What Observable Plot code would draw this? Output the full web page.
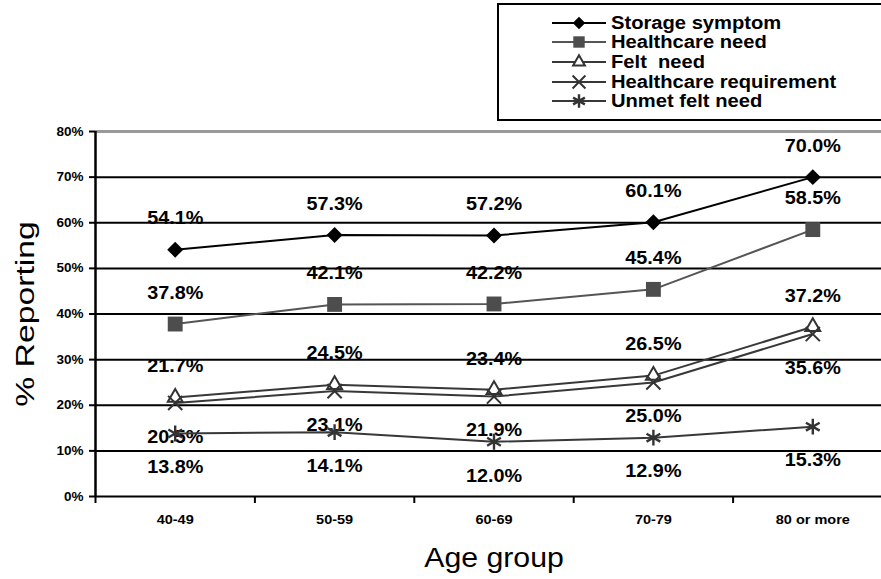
<!DOCTYPE html>
<html><head><meta charset="utf-8">
<script src="https://cdn.jsdelivr.net/npm/d3@7"></script>
<script src="https://cdn.jsdelivr.net/npm/@observablehq/plot@0.6"></script>
<style>
html,body{margin:0;padding:0;overflow:hidden;background:#fff;width:881px;height:579px}
#wrap{position:relative;width:881px;height:579px;overflow:hidden}
#chart svg{max-width:none !important}
#legend{position:absolute;left:497px;top:3px;width:400px;height:118px;border:2px solid #000;background:#fff;box-sizing:border-box;font-family:"Liberation Sans",Arial,sans-serif;font-weight:bold;font-size:18px;color:#000}
.row{position:absolute;left:53px;height:20px;display:flex;align-items:center;white-space:pre}
.row svg{display:block}
.row span{display:inline-block;margin-left:5px;transform:scaleX(1.12);transform-origin:left center;line-height:20px}
</style>
</head><body>
<div id="wrap"><div id="chart"></div><div id="legend"></div></div>
<script>
const ageGroups = ["40-49", "50-59", "60-69", "70-79", "80 or more"];
const seriesNames = ["Storage symptom", "Healthcare need", "Felt  need", "Healthcare requirement", "Unmet felt need"];
const storageSymptom = [54.1, 57.3, 57.2, 60.1, 70.0];
const healthcareNeed = [37.8, 42.1, 42.2, 45.4, 58.5];
const feltNeed = [21.7, 24.5, 23.4, 26.5, 37.2];
const healthcareRequirement = [20.5, 23.1, 21.9, 25.0, 35.6];
const unmetFeltNeed = [13.8, 14.1, 12.0, 12.9, 15.3];
const yTicks = [0, 10, 20, 30, 40, 50, 60, 70, 80];
const yLabel = "% Reporting";
const xLabel = "Age group";

const seriesValues = [storageSymptom, healthcareNeed, feltNeed, healthcareRequirement, unmetFeltNeed];

// styling (not data)
const styles = [
  {line: "#000000", symbol: "diamond2", fill: "#000000", stroke: "none", r: 7.2, dy: -31},
  {line: "#555555", symbol: "square", fill: "#4d4d4d", stroke: "none", r: 8.4, dy: -31},
  {line: "#383838", symbol: "triangle", fill: "#ffffff", stroke: "#333333", r: 5.5, dy: -31},
  {line: "#383838", symbol: "times", fill: "none", stroke: "#333333", r: 6.5, dy: 34},
  {line: "#383838", symbol: "asterisk", fill: "none", stroke: "#333333", r: 7.5, dy: 34}
];

const rows = seriesNames.map((name, i) => ageGroups.map((a, j) => ({series: name, si: i, xi: j, age: a, v: seriesValues[i][j]})));

const font = "'Liberation Sans', Arial, sans-serif";
const marks = [];
// gridlines
marks.push(Plot.ruleY(yTicks.filter(t => t < 80), {stroke: "#000", strokeWidth: 2}));
marks.push(Plot.ruleY(yTicks.filter(t => t === 80), {stroke: "#999", strokeWidth: 3}));
// y axis line
marks.push(Plot.ruleX([-0.5], {y1: 0, y2: 80, stroke: "#000", strokeWidth: 2.5}));
// axes
marks.push(Plot.axisY({ticks: yTicks, tickFormat: d => d + "%", tickSize: 6, tickPadding: 6, strokeWidth: 2, fontSize: 12.5, fontWeight: "bold", label: null}));
marks.push(Plot.axisX({ticks: d3.range(ageGroups.length + 1).map(k => k - 0.5), tickFormat: () => "", tickSize: 7, strokeWidth: 2, label: null}));
marks.push(Plot.axisX({ticks: d3.range(ageGroups.length), tickFormat: i => ageGroups[i], tickSize: 0, tickPadding: 19, fontSize: 12.6, fontWeight: "bold", label: null}));
// axis titles
marks.push(Plot.text([yLabel], {frameAnchor: "left", textAnchor: "middle", lineAnchor: "middle", rotate: -90, dx: -70, dy: 0, fontSize: 25, fontWeight: "normal"}));
marks.push(Plot.text([xLabel], {frameAnchor: "bottom", textAnchor: "middle", lineAnchor: "middle", dy: 62, fontSize: 27, fontWeight: "normal"}));
// value labels
rows.forEach((r, i) => {
  marks.push(Plot.text(r, {x: "xi", y: "v", text: d => d.v.toFixed(1) + "%", dy: styles[i].dy, fontSize: 18, fontWeight: "bold", fill: "#000"}));
});
// lines and markers
rows.forEach((r, i) => {
  const s = styles[i];
  marks.push(Plot.line(r, {x: "xi", y: "v", stroke: s.line, strokeWidth: 2}));
});
rows.forEach((r, i) => {
  const s = styles[i];
  marks.push(Plot.dot(r, {x: "xi", y: "v", symbol: () => s.symbol, r: s.r, fill: s.fill, stroke: s.stroke, strokeWidth: s.symbol === "asterisk" ? 2.4 : 2}));
});

const chart = Plot.plot({
  width: 892, height: 579,
  marginLeft: 95, marginRight: 0, marginTop: 131, marginBottom: 83,
  style: {fontFamily: font, color: "#000", background: "transparent", overflow: "visible", maxWidth: "none"},
  x: {type: "linear", domain: [-0.5, ageGroups.length - 0.5]},
  y: {type: "linear", domain: [0, 80]},
  symbol: {type: "identity"},
  marks
});
document.getElementById("chart").appendChild(chart);

function stretch(sel, f) {
  d3.select(chart).selectAll(sel).each(function() {
    const L = this.getComputedTextLength();
    if (L > 0) { this.setAttribute("textLength", L * f); this.setAttribute("lengthAdjust", "spacingAndGlyphs"); }
  });
}
stretch('g[font-size="18"] text', 1.1);
stretch('g[font-size="12.5"] text', 1.08);
stretch('g[font-size="12.6"] text', 1.15);
stretch('g[font-size="25"] text', 1.35);
stretch('g[font-size="27"] text', 1.12);

// legend
const symbolTypes = {diamond2: d3.symbolDiamond2, square: d3.symbolSquare, triangle: d3.symbolTriangle, times: d3.symbolTimes, asterisk: d3.symbolAsterisk};
const legendSizes = [100, 130, 60, 110, 130];
const legend = d3.select("#legend");
seriesNames.forEach((name, i) => {
  const s = styles[i];
  const row = legend.append("div").attr("class", "row").style("top", (7.7 + 19.6 * i) + "px");
  const svg = row.append("svg").attr("width", 54).attr("height", 20);
  svg.append("line").attr("x1", 0).attr("x2", 54).attr("y1", 10).attr("y2", 10).attr("stroke", s.line).attr("stroke-width", 2);
  svg.append("path").attr("transform", "translate(27,10)")
    .attr("d", d3.symbol(symbolTypes[s.symbol], legendSizes[i])())
    .attr("fill", s.fill).attr("stroke", s.stroke).attr("stroke-width", s.symbol === "asterisk" ? 2.4 : 2);
  row.append("span").text(name);
});
</script>
</body></html>
